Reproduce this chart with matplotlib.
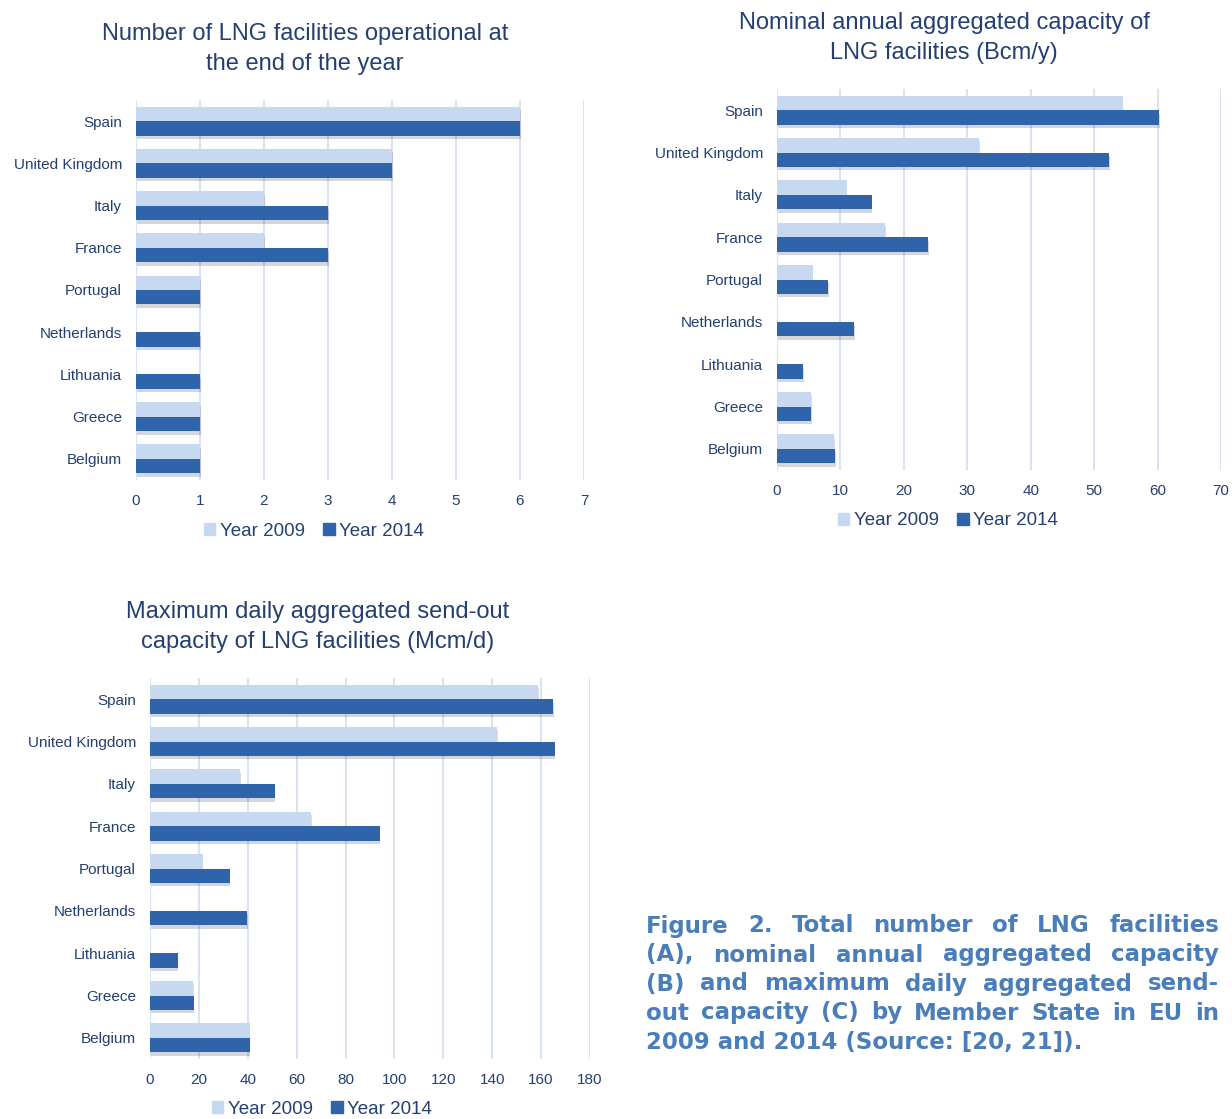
import numpy as np
import matplotlib
matplotlib.use("Agg")
import matplotlib.pyplot as plt
from matplotlib.patches import Patch
import matplotlib.patheffects as pe

countries = ["Spain", "United Kingdom", "Italy", "France", "Portugal",
             "Netherlands", "Lithuania", "Greece", "Belgium"]

# (A) number of facilities
count_2009 = [6, 4, 2, 2, 1, 0, 0, 1, 1]
count_2014 = [6, 4, 3, 3, 1, 1, 1, 1, 1]

# (B) nominal annual capacity, Bcm/y
annual_2009 = [54.5, 31.9, 11.0, 17.1, 5.6, 0, 0, 5.4, 9.0]
annual_2014 = [60.2, 52.4, 14.9, 23.8, 8.1, 12.2, 4.1, 5.4, 9.2]

# (C) max daily send-out, Mcm/d
daily_2009 = [158.7, 141.9, 37, 66, 21.6, 0, 0, 17.6, 40.8]
daily_2014 = [164.8, 165.6, 51, 94, 32.6, 39.8, 11.3, 17.9, 40.8]

LIGHT = "#C6D9F0"
DARK = "#2F63AA"
TXT = "#243F72"
GRID = "#D9E4F2"
CAPTION = "#4A7EBB"

plt.rcParams["font.family"] = ["Liberation Sans", "DejaVu Sans"]

W, H = 1232, 1119
fig = plt.figure(figsize=(W / 100, H / 100), dpi=100)


def fx(px):
  return px / W


def fy(py):
  return 1 - py / H


def bar_panel(rect, v09, v14, xmax, step, title, title_xy, legend_xy):
  ax = fig.add_axes(rect)
  y = np.arange(len(countries))
  h = 0.343
  shadow = [pe.SimplePatchShadow(offset=(0.5, -2.5), alpha=0.18), pe.Normal()]
  b1 = ax.barh(y - h / 2, v09, height=h, color=LIGHT, zorder=3)
  b2 = ax.barh(y + h / 2, v14, height=h, color=DARK, zorder=3)
  for b in list(b1) + list(b2):
    if b.get_width() > 0:
      b.set_path_effects(shadow)
  ax.set_ylim(len(countries) - 0.5, -0.5)
  ax.set_xlim(0, xmax)
  ax.set_xticks(np.arange(0, xmax + step / 2, step))
  ax.set_yticks(y)
  ax.set_yticklabels(countries)
  ax.tick_params(length=0, colors=TXT, labelsize=11)
  ax.tick_params(axis="y", pad=10)
  ax.tick_params(axis="x", pad=10)
  ax.grid(axis="x", color=GRID, linewidth=1.5, zorder=0)
  ax.set_axisbelow(True)
  for s in ax.spines.values():
    s.set_visible(False)
  fig.text(fx(title_xy[0]), fy(title_xy[1]), title, ha="center", va="center",
           fontsize=17, color=TXT, linespacing=1.5)
  handles = [Patch(color=LIGHT, label="Year 2009"), Patch(color=DARK, label="Year 2014")]
  fig.legend(handles=handles, loc="center", ncol=2, frameon=False,
             bbox_to_anchor=(fx(legend_xy[0]), fy(legend_xy[1])),
             fontsize=13.5, handlelength=0.6, handleheight=0.6,
             handletextpad=0.25, columnspacing=1.0, labelcolor=TXT)
  return ax


bar_panel([fx(136), fy(480), fx(584 - 136), (480 - 100) / H],
          count_2009, count_2014, 7, 1,
          "Number of LNG facilities operational at\nthe end of the year",
          (305, 49), (314, 531))

bar_panel([fx(777), fy(470), fx(1221 - 777), (470 - 89) / H],
          annual_2009, annual_2014, 70, 10,
          "Nominal annual aggregated capacity of\nLNG facilities (Bcm/y)",
          (944, 38), (948, 521))

bar_panel([fx(150), fy(1059), fx(590 - 150), (1059 - 678) / H],
          daily_2009, daily_2014, 180, 20,
          "Maximum daily aggregated send-out\ncapacity of LNG facilities (Mcm/d)",
          (318, 627), (322, 1109))

# justified caption
caption_lines = [
  "Figure 2. Total number of LNG facilities",
  "(A), nominal annual aggregated capacity",
  "(B) and maximum daily aggregated send-",
  "out capacity (C) by Member State in EU in",
  "2009 and 2014 (Source: [20, 21]).",
]
x0, x1 = 646, 1219
line_y = [926, 955, 984, 1013, 1042]
renderer = fig.canvas.get_renderer()
cap_kw = dict(fontsize=16.5, fontweight="bold", color=CAPTION,
              family="DejaVu Sans", va="center", ha="left")
for i, (line, yy) in enumerate(zip(caption_lines, line_y)):
  if i == len(caption_lines) - 1:
    fig.text(fx(x0), fy(yy), line, **cap_kw)
    continue
  words = line.split(" ")
  texts = [fig.text(0, fy(yy), w, **cap_kw) for w in words]
  widths = [t.get_window_extent(renderer).width for t in texts]
  gap = (x1 - x0 - sum(widths)) / (len(words) - 1)
  cur = x0
  for t, w in zip(texts, widths):
    t.set_x(fx(cur))
    cur += w + gap

fig.savefig("out.png", dpi=100)
